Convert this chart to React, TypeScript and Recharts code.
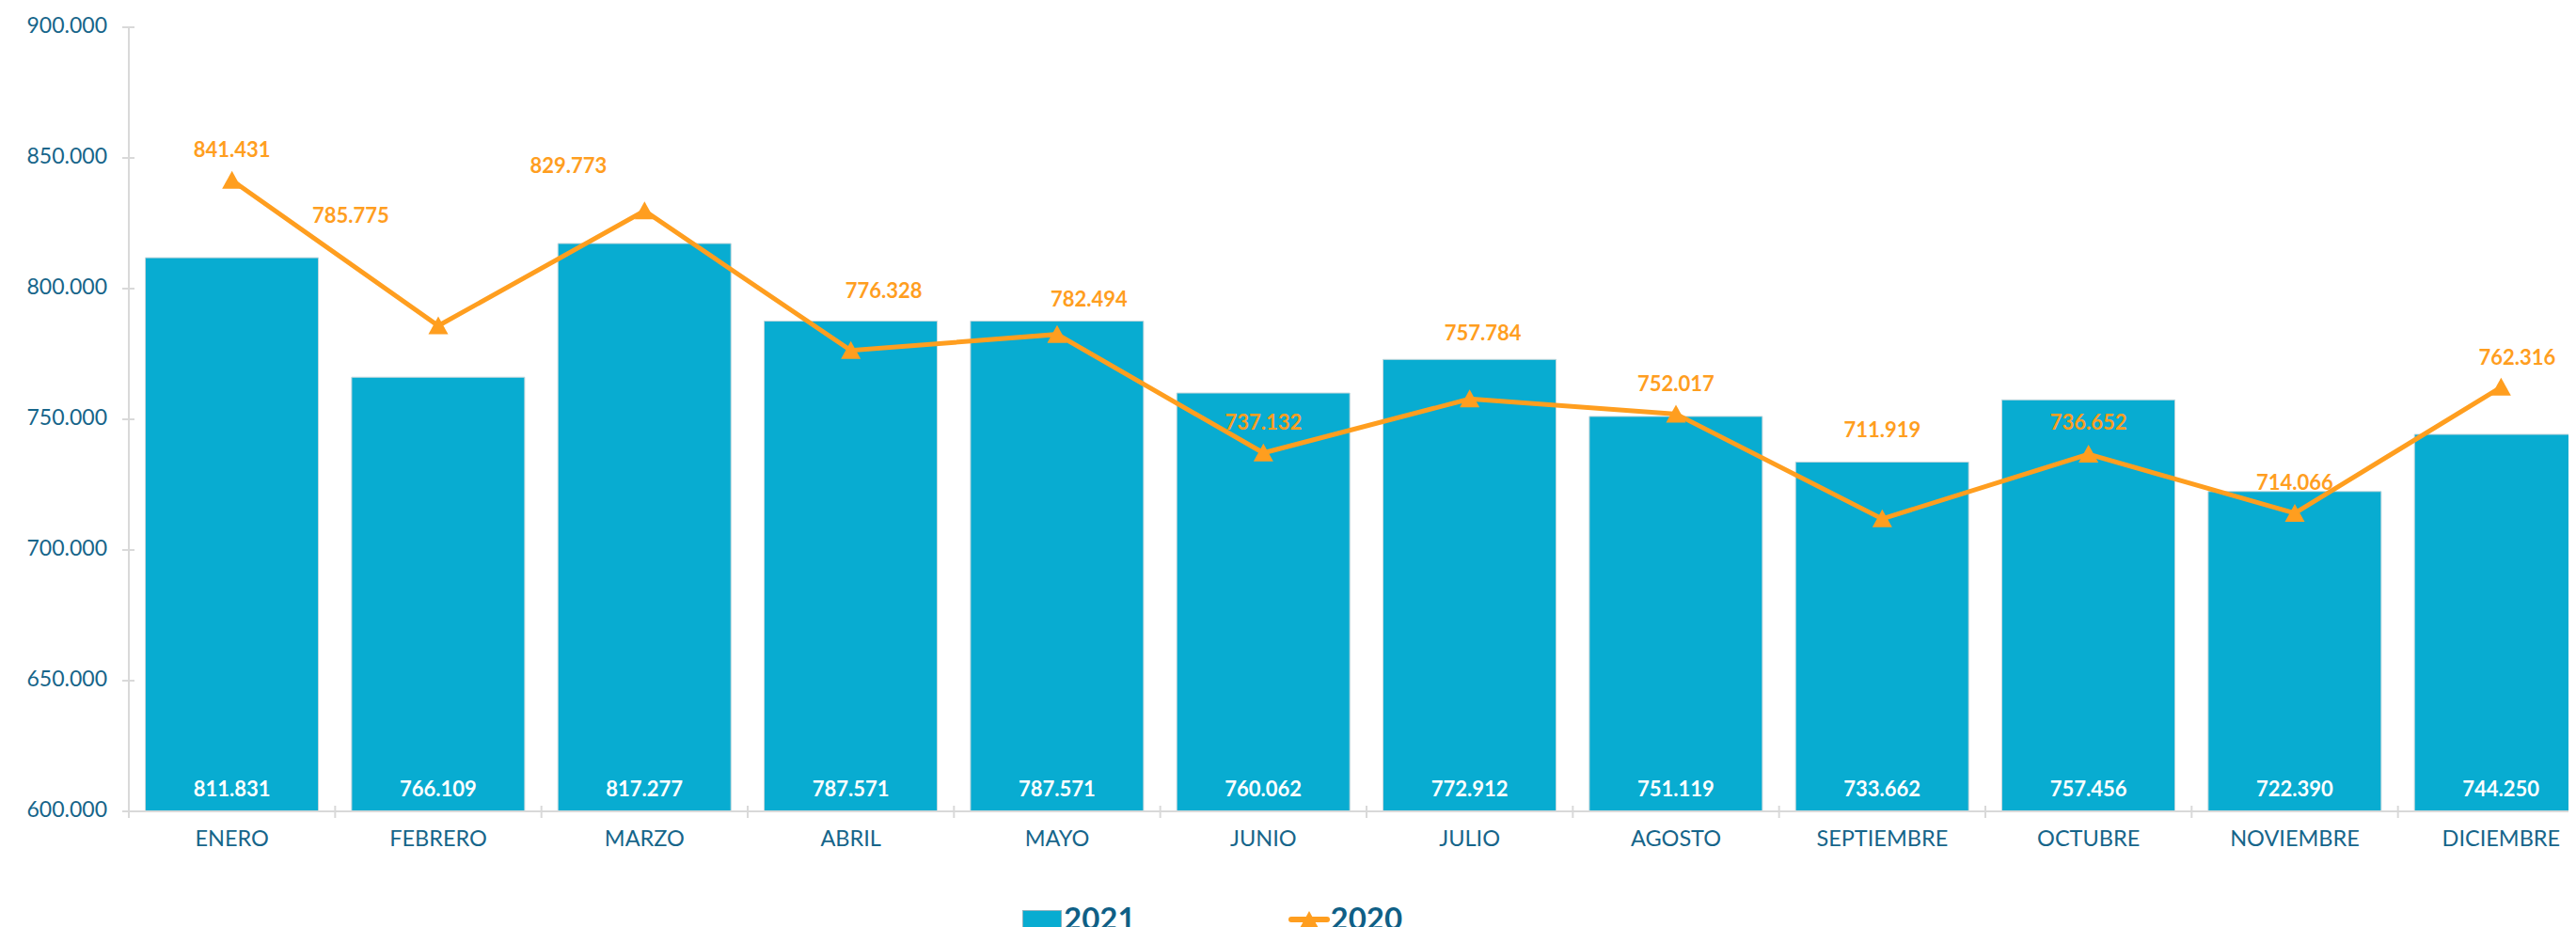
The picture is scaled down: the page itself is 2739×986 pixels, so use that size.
import React from 'react';
import { ComposedChart, Bar, Line, XAxis, YAxis, Legend, LabelList } from 'recharts';

const months = ['ENERO', 'FEBRERO', 'MARZO', 'ABRIL', 'MAYO', 'JUNIO', 'JULIO', 'AGOSTO', 'SEPTIEMBRE', 'OCTUBRE', 'NOVIEMBRE', 'DICIEMBRE'];
const values2021 = [811831, 766109, 817277, 787571, 787571, 760062, 772912, 751119, 733662, 757456, 722390, 744250];
const values2020 = [841431, 785775, 829773, 776328, 782494, 737132, 757784, 752017, 711919, 736652, 714066, 762316];
const yTicks = [600000, 650000, 700000, 750000, 800000, 850000, 900000];
const seriesNames = { bar: '2021', line: '2020' };

// nudges (dx, dy) of the 2020 value labels relative to their points
const lineLabelNudges: [number, number][] = [
  [0, -33], [-93, -118], [-81, -48], [35, -64], [34, -38], [0, -33],
  [14, -70], [0, -32], [0, -95], [0, -34], [0, -33], [17, -32],
];

const data = months.map((m, i) => ({ month: m, v2021: values2021[i], v2020: values2020[i] }));

const FONT = 'Lato, "Open Sans", sans-serif';
const AXIS_TEXT = '#16658a';
const BAR_COLOR = '#08ACD1';
const LINE_COLOR = '#FF9E1F';
const GRID = '#d9d9d9';

const fmt = (v: number) => String(v).replace(/\B(?=(\d{3})+(?!\d))/g, '.');

const YTick = (props: any) => {
  const { x, y, payload } = props;
  return (
    <g>
      <line x1={x - 7} x2={x + 6} y1={y} y2={y} stroke={GRID} strokeWidth={2} />
      <text x={x - 23} y={y + 6} textAnchor="end" fill={AXIS_TEXT} fontSize={23} fontFamily={FONT}>
        {fmt(payload.value)}
      </text>
    </g>
  );
};

const XTick = (props: any) => {
  const { x, y, payload, index } = props;
  const half = payload && payload.offset ? payload.offset : 0;
  return (
    <g>
      <line x1={x - half} x2={x - half} y1={y - 6} y2={y + 7} stroke={GRID} strokeWidth={2} />
      {index === months.length - 1 ? (
        <line x1={x + half} x2={x + half} y1={y - 6} y2={y + 7} stroke={GRID} strokeWidth={2} />
      ) : null}
      <text x={x} y={y + 37} textAnchor="middle" fill={AXIS_TEXT} fontSize={23.5} fontFamily={FONT}>
        {payload.value}
      </text>
    </g>
  );
};

const TriangleDot = (props: any) => {
  const { cx, cy, index } = props;
  if (cx == null || cy == null) return <g key={`d-${index}`} />;
  return (
    <polygon
      key={`d-${index}`}
      points={`${cx},${cy - 10} ${cx - 10.5},${cy + 9} ${cx + 10.5},${cy + 9}`}
      fill={LINE_COLOR}
    />
  );
};

const BarValueLabel = (props: any) => {
  const vb = props.viewBox || {};
  const x = vb.x != null ? vb.x : props.x;
  const y = vb.y != null ? vb.y : props.y;
  const w = vb.width != null ? vb.width : props.width;
  const h = vb.height != null ? vb.height : props.height;
  return (
    <text x={x + w / 2} y={y + h - 16} textAnchor="middle" fill="#ffffff" fontSize={22} fontWeight={700} fontFamily={FONT}>
      {fmt(props.value)}
    </text>
  );
};

const LineValueLabel = (props: any) => {
  const vb = props.viewBox || {};
  const x = props.x != null ? props.x : vb.x;
  const y = props.y != null ? props.y : vb.y;
  let idx = props.index;
  if (idx == null) idx = values2020.indexOf(props.value);
  const [dx, dy] = lineLabelNudges[idx] || [0, -33];
  return (
    <text x={x + dx} y={y + dy + 8} textAnchor="middle" fill={LINE_COLOR} fontSize={22} fontWeight={700} fontFamily={FONT}>
      {fmt(props.value)}
    </text>
  );
};

const LegendContent = () => (
  <div style={{ display: 'flex', alignItems: 'flex-start', fontFamily: FONT, fontWeight: 700, fontSize: 33, color: '#0f5f86', lineHeight: '33px' }}>
    <div style={{ display: 'flex', alignItems: 'flex-start' }}>
      <div style={{ width: 42, height: 34, marginTop: 8, background: BAR_COLOR, border: '1px solid #8fb3bf', boxSizing: 'border-box' }} />
      <span style={{ marginLeft: 2 }}>{seriesNames.bar}</span>
    </div>
    <div style={{ display: 'flex', alignItems: 'flex-start', marginLeft: 162 }}>
      <svg width={44} height={30} style={{ marginTop: 8 }}>
        <line x1={3} x2={41} y1={10} y2={10} stroke={LINE_COLOR} strokeWidth={6} strokeLinecap="round" />
        <polygon points="22,1 11,21 33,21" fill={LINE_COLOR} />
      </svg>
      <span style={{ marginLeft: 1 }}>{seriesNames.line}</span>
    </div>
  </div>
);

export default function App() {
  return (
    <div style={{ width: 2731, height: 978, overflow: 'hidden', position: 'relative' }}>
      <ComposedChart
        width={2761}
        height={978}
        data={data}
        margin={{ top: 21, right: 0, left: 0, bottom: 63 }}
        barCategoryGap="8%"
      >
        <XAxis
          dataKey="month"
          interval={0}
          tickSize={0}
          tickMargin={0}
          height={60}
          axisLine={{ stroke: GRID, strokeWidth: 2 }}
          tickLine={false}
          tick={<XTick />}
        />
        <YAxis
          domain={[600000, 900000]}
          ticks={yTicks}
          allowDataOverflow
          width={129}
          tickSize={0}
          tickMargin={0}
          axisLine={{ stroke: GRID, strokeWidth: 2 }}
          tickLine={false}
          tick={<YTick />}
        />
        <Legend
          layout="horizontal"
          verticalAlign="middle"
          align="center"
          content={<LegendContent />}
          wrapperStyle={{ top: 952, left: 1079, width: 'auto', height: 'auto' }}
        />
        <Bar dataKey="v2021" name={seriesNames.bar} fill={BAR_COLOR} stroke="#c5d7dc" strokeWidth={1} isAnimationActive={false}>
          <LabelList dataKey="v2021" content={<BarValueLabel />} />
        </Bar>
        <Line
          dataKey="v2020"
          name={seriesNames.line}
          stroke={LINE_COLOR}
          strokeWidth={5}
          dot={TriangleDot}
          activeDot={false}
          isAnimationActive={false}
        >
          <LabelList dataKey="v2020" content={<LineValueLabel />} />
        </Line>
      </ComposedChart>
    </div>
  );
}
